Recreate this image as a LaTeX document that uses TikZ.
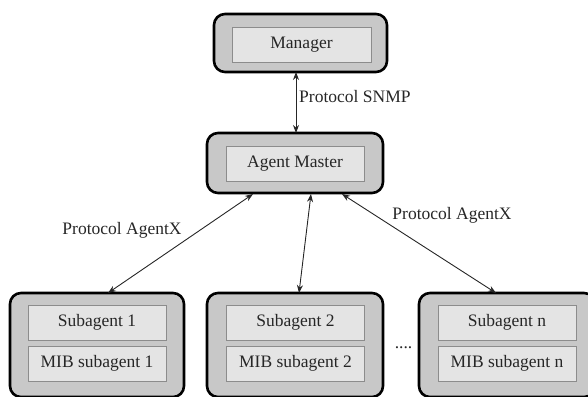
\documentclass[tikz,border=0pt]{standalone}
\usepackage{fontspec}
\setmainfont{Liberation Serif}
\usetikzlibrary{arrows.meta}
\definecolor{outerfill}{HTML}{C8C8C8}
\definecolor{innerfill}{HTML}{E4E4E4}
\definecolor{innerline}{HTML}{8C8C8C}
\definecolor{ink}{HTML}{262626}
\begin{document}
\begin{tikzpicture}[x=1pt,y=-1pt,
  outerbox/.style={draw=black,line width=2.6pt,fill=outerfill,rounded corners=11pt},
  innerbox/.style={draw=innerline,line width=0.9pt,fill=innerfill,
    minimum width=138pt,minimum height=35pt,inner sep=0pt,
    font=\fontsize{17.5}{21}\selectfont,text=ink},
  link/.style={draw=ink,line width=0.9pt,{Stealth[length=8pt,width=6pt]}-{Stealth[length=8pt,width=6pt]}},
  lbl/.style={font=\fontsize{17.5}{21}\selectfont,text=ink,inner sep=1pt}]
\useasboundingbox (0,0) rectangle (588,396);

% Manager
\draw[outerbox] (214,14) rectangle (387,72);
\node[innerbox,minimum width=139pt] (mgr) at (301.5,44.5) {Manager};
\coordinate (mgrB) at (296,72);

% Agent master
\draw[outerbox] (207,133) rectangle (383,193);
\node[innerbox] (am) at (295,164) {Agent Master};
\coordinate (amT) at (296,133);
\coordinate (amL) at (253,194);
\coordinate (amM) at (311,194);
\coordinate (amR) at (342,194);

% Subagents
\draw[outerbox] (10,293) rectangle (184,397);
\node[innerbox] (s1) at (97,322.5) {Subagent 1};
\node[innerbox] (m1) at (97,363.5) {MIB subagent 1};
\coordinate (s1T) at (108,293);

\draw[outerbox] (207,293) rectangle (383,397);
\node[innerbox] (s2) at (295.5,322.5) {Subagent 2};
\node[innerbox] (m2) at (295.5,363.5) {MIB subagent 2};
\coordinate (s2T) at (299,293);

\draw[outerbox] (419,293) rectangle (595,397);
\node[innerbox] (sn) at (507,322.5) {Subagent n};
\node[innerbox] (mn) at (507,363.5) {MIB subagent n};
\coordinate (snT) at (496,293);

\node[lbl] (dots) at (403.5,348) {....};

% Connectors
\draw[link] (mgrB) -- (amT);
\draw[link] (amL) -- (s1T);
\draw[link] (amM) -- (s2T);
\draw[link] (amR) -- (snT);

\node[lbl,anchor=west] (snmp) at (298,97) {Protocol SNMP};
\node[lbl] (ax1) at (122,230) {Protocol AgentX};
\node[lbl] (ax2) at (452,215) {Protocol AgentX};
\end{tikzpicture}
\end{document}
